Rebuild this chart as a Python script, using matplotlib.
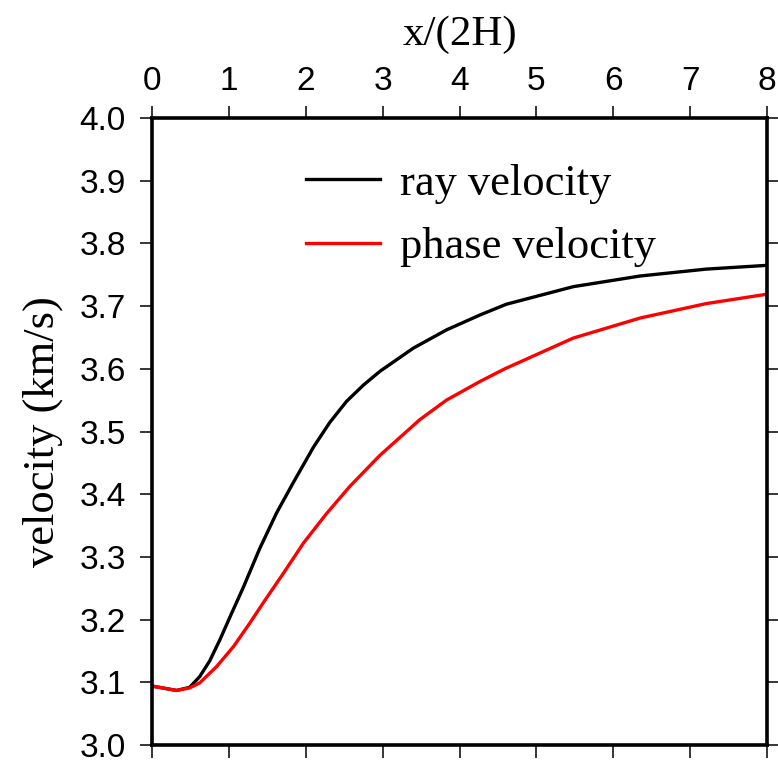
import matplotlib as mpl
mpl.use('Agg')
import matplotlib.pyplot as plt
import numpy as np

# curves
x_ray = [0.0, 0.32, 0.49, 0.62, 0.75, 0.88, 1.01, 1.19, 1.40, 1.62, 1.84,
         2.10, 2.31, 2.53, 2.75, 2.965, 3.40, 3.83, 4.27, 4.61, 5.48, 6.35,
         7.21, 8.0]
v_ray = [3.094, 3.087, 3.092, 3.109, 3.134, 3.167, 3.203, 3.252, 3.313,
         3.370, 3.419, 3.475, 3.514, 3.548, 3.574, 3.596, 3.633, 3.662,
         3.686, 3.703, 3.731, 3.748, 3.759, 3.765]

x_phase = [0.0, 0.32, 0.49, 0.62, 0.84, 1.06, 1.27, 1.47, 1.71, 1.97, 2.27,
           2.57, 2.965, 3.485, 3.83, 4.27, 4.59, 5.48, 6.35, 7.21, 8.0]
v_phase = [3.094, 3.087, 3.091, 3.099, 3.125, 3.157, 3.194, 3.231, 3.274,
           3.322, 3.369, 3.412, 3.462, 3.519, 3.550, 3.580, 3.600, 3.649,
           3.681, 3.704, 3.719]

xticks = [0, 1, 2, 3, 4, 5, 6, 7, 8]
yticks = [3.0, 3.1, 3.2, 3.3, 3.4, 3.5, 3.6, 3.7, 3.8, 3.9, 4.0]

tick_font = ['Liberation Sans', 'DejaVu Sans']
serif_font = ['Liberation Serif', 'DejaVu Serif']

fig = plt.figure(figsize=(7.78, 7.65), dpi=100)
ax = fig.add_axes([152/778, 1 - 745/765, 615/778, 627/765])

ax.plot(x_ray, v_ray, color='k', lw=2.4, label='ray velocity')
ax.plot(x_phase, v_phase, color='red', lw=2.4, label='phase velocity')

ax.set_xlim(0, 8)
ax.set_ylim(3.0, 4.0)
ax.set_xticks(xticks)
ax.set_yticks(yticks)
ax.set_yticklabels(['%.1f' % v for v in yticks])

ax.tick_params(axis='x', top=True, bottom=True, labeltop=True,
               labelbottom=False, direction='out', length=9, width=1.1,
               pad=6)
ax.tick_params(axis='y', left=True, right=True, labelleft=True,
               labelright=False, direction='out', length=9, width=1.1,
               pad=10)
for lab in ax.get_xticklabels() + ax.get_yticklabels():
    lab.set_family(tick_font)
    lab.set_fontsize(24)

for s in ax.spines.values():
    s.set_linewidth(2.6)

ax.xaxis.set_label_position('top')
ax.set_xlabel('x/(2H)', family=serif_font, fontsize=31, labelpad=15)
ax.set_ylabel('velocity (km/s)', family=serif_font, fontsize=32, labelpad=12)

lh = ax.legend(loc='upper left', bbox_to_anchor=(0.25, 0.927), frameon=False,
               prop={'family': serif_font, 'size': 32}, handlelength=1.67,
               handletextpad=0.45, labelspacing=0.52, borderpad=0,
               borderaxespad=0)

fig.savefig('out.png', dpi=100)
